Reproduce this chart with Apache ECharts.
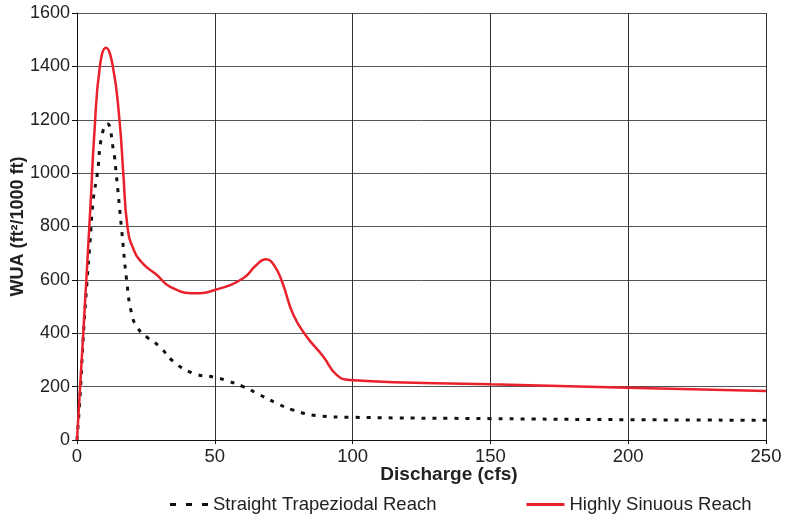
<!DOCTYPE html>
<html><head><meta charset="utf-8">
<script src="https://cdn.jsdelivr.net/npm/echarts@6/dist/echarts.min.js"></script>
<style>html,body{margin:0;padding:0;background:#fff}#c{width:791px;height:520px}</style>
</head><body><div id="c"></div>
<script>
const xTicks = [0, 50, 100, 150, 200, 250];
const yTicks = [0, 200, 400, 600, 800, 1000, 1200, 1400, 1600];
const seriesNames = ['Straight Trapeziodal Reach', 'Highly Sinuous Reach'];
const straightQ = [0, 1.1, 2.3, 3.5, 4.7, 5.9, 7.4, 9, 11, 13.2, 14.2, 16.2, 18, 19.8, 22, 26, 30, 35, 42.2, 50, 55, 60.3, 66.4, 72, 78.5, 88.2, 100, 150, 200, 250];
const straightWUA = [0, 163, 390, 575, 738, 900, 1000, 1140, 1185, 1087, 1000, 788, 600, 475, 420, 380, 350, 294, 250, 235, 220, 200, 169, 140, 112, 90, 85, 80, 76, 74];
const sinuousQ = [0, 2.5, 5, 6.3, 8.3, 10.5, 13, 15.4, 16.8, 18.3, 20.5, 24, 28.9, 33.7, 42.8, 50, 60.3, 65, 68.5, 71.5, 74.5, 78.5, 83.3, 89.4, 94.2, 99, 150, 200, 250];
const sinuousWUA = [0, 440, 900, 1150, 1400, 1470, 1400, 1200, 1000, 800, 715, 660, 619, 575, 550, 562, 606, 655, 677, 655, 590, 469, 388, 312, 244, 225, 209, 196, 184];

const pair = (xs, ys) => xs.map((x, i) => [x, ys[i]]);
const font = '"Liberation Sans", Arial, Helvetica, sans-serif';
const chart = echarts.init(document.getElementById('c'), null, {renderer: 'canvas'});
chart.setOption({
  animation: false,
  grid: {left: 77, right: 25, top: 13, bottom: 80, containLabel: false, outerBoundsMode: 'none'},
  xAxis: {
    type: 'value', min: xTicks[0], max: xTicks[xTicks.length - 1], interval: 50,
    name: 'Discharge (cfs)', nameLocation: 'middle', nameGap: 25, nameMoveOverlap: false,
    nameTextStyle: {fontFamily: font, fontWeight: 'bold', fontSize: 19, color: '#222', padding: [0, 0, 0, 55]},
    axisLine: {lineStyle: {color: '#111', width: 1}},
    axisTick: {show: true, length: 4, lineStyle: {color: '#111'}},
    axisLabel: {fontFamily: font, fontSize: 18.5, color: '#222', margin: 7, formatter: v => String(v)},
    splitLine: {show: true, lineStyle: {color: '#333', width: 1}}
  },
  yAxis: {
    type: 'value', min: yTicks[0], max: yTicks[yTicks.length - 1], interval: 200,
    name: 'WUA (ft²/1000 ft)', nameLocation: 'middle', nameGap: 50, nameRotate: 90, nameMoveOverlap: false,
    nameTextStyle: {fontFamily: font, fontWeight: 'bold', fontSize: 18, color: '#222'},
    axisLine: {show: true, lineStyle: {color: '#111', width: 1}},
    axisTick: {show: true, length: 5, lineStyle: {color: '#111'}},
    axisLabel: {fontFamily: font, fontSize: 18, color: '#222', margin: 7, formatter: v => String(v)},
    splitLine: {show: true, lineStyle: {color: '#555', width: 1}}
  },
  legend: {
    bottom: 1, left: 165, itemGap: 90, itemWidth: 38, itemHeight: 3,
    textStyle: {fontFamily: font, fontSize: 18.5, color: '#222'},
    data: [
      {name: seriesNames[0], icon: 'path://M0,0H6V3H0Z M16,0H22V3H16Z M32,0H38V3H32Z', itemStyle: {color: '#111'}},
      {name: seriesNames[1], icon: 'rect', itemStyle: {color: '#e8212b'}}
    ]
  },
  series: [
    {
      name: seriesNames[0], type: 'line', data: pair(straightQ, straightWUA),
      showSymbol: false, symbol: 'none', smooth: 0.5,
      lineStyle: {color: '#111', width: 3, type: [4, 7]}, itemStyle: {color: '#111'}, z: 3
    },
    {
      name: seriesNames[1], type: 'line', data: pair(sinuousQ, sinuousWUA),
      showSymbol: false, symbol: 'none', smooth: 0.5,
      lineStyle: {color: '#e8212b', width: 2.5}, itemStyle: {color: '#e8212b'}, z: 4
    }
  ]
});
</script></body></html>
